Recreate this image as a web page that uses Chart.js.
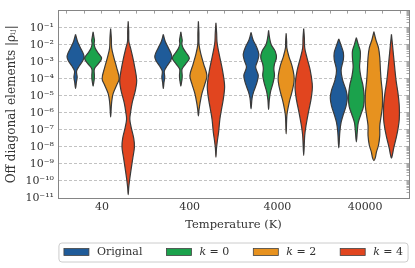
<!DOCTYPE html>
<html>
<head>
<meta charset="utf-8">
<script src="https://cdn.jsdelivr.net/npm/chart.js@4"></script>
<style>
  html, body { margin: 0; padding: 0; background: #ffffff; }
  #wrap { width: 415px; height: 268px; position: relative; }
</style>
</head>
<body>
<div id="wrap"><canvas id="c" width="415" height="268"></canvas></div>
<script>
// ---------- data ----------
const categories = ['40', '400', '4000', '40000'];
const seriesNames = ['Original', 'k = 0', 'k = 2', 'k = 4'];
const yTickValues = [1e-1, 1e-2, 1e-3, 1e-4, 1e-5, 1e-6, 1e-7, 1e-8, 1e-9, 1e-10, 1e-11];
const yTickLabels = ['10⁻¹', '10⁻²', '10⁻³', '10⁻⁴', '10⁻⁵', '10⁻⁶', '10⁻⁷', '10⁻⁸', '10⁻⁹', '10⁻¹⁰', '10⁻¹¹'];

// density profiles: [log10 value, relative density width], one profile per temperature
const originalDensity = [
  [[-1.38,0],[-1.8,0.23],[-2.18,0.58],[-2.66,1.0],[-2.94,0.85],[-3.23,0.46],[-3.55,0.12],[-3.9,0.19],[-4.2,0.1],[-4.56,0]],
  [[-1.38,0],[-1.8,0.23],[-2.18,0.6],[-2.66,1.0],[-2.94,0.85],[-3.23,0.46],[-3.55,0.12],[-3.9,0.17],[-4.2,0.08],[-4.56,0]],
  [[-1.27,0],[-1.7,0.23],[-2.09,0.62],[-2.56,0.92],[-2.94,0.77],[-3.32,0.54],[-3.8,0.85],[-4.28,0.65],[-4.75,0.31],[-5.13,0.12],[-5.76,0]],
  [[-1.65,0],[-2.09,0.31],[-2.47,0.54],[-2.85,0.54],[-3.5,0.27],[-4.09,0.46],[-4.66,0.85],[-5.13,1.0],[-5.6,0.85],[-6.08,0.54],[-6.56,0.27],[-7.13,0.12],[-8.06,0]]
];
const k0Density = [
  [[-1.23,0],[-1.55,0.1],[-1.75,0.16],[-1.95,0.12],[-2.2,0.25],[-2.45,0.55],[-2.79,1.0],[-3.13,0.58],[-3.42,0.15],[-3.8,0.15],[-4.0,0.14],[-4.2,0.08],[-4.43,0]],
  [[-1.23,0],[-1.55,0.1],[-1.75,0.16],[-1.95,0.12],[-2.2,0.28],[-2.45,0.6],[-2.79,1.0],[-3.13,0.55],[-3.42,0.14],[-3.8,0.16],[-4.0,0.14],[-4.2,0.08],[-4.43,0]],
  [[-1.15,0],[-1.61,0.12],[-1.99,0.31],[-2.37,0.77],[-2.75,0.92],[-3.13,0.69],[-3.42,0.62],[-3.8,0.69],[-4.28,0.5],[-4.75,0.23],[-5.23,0.08],[-5.8,0]],
  [[-1.57,0],[-1.99,0.23],[-2.37,0.46],[-2.75,0.46],[-3.32,0.38],[-3.9,0.54],[-4.37,0.77],[-5.04,0.92],[-5.6,0.85],[-6.08,0.54],[-6.56,0.23],[-7.04,0.12],[-7.7,0]]
];
const k2Density = [
  [[-1.04,0],[-1.6,0.08],[-2.18,0.12],[-2.75,0.38],[-3.32,0.7],[-3.99,1.0],[-4.37,0.7],[-4.85,0.3],[-5.23,0.15],[-5.6,0.08],[-6.24,0]],
  [[-0.62,0],[-1.3,0.06],[-2.0,0.08],[-2.56,0.3],[-3.13,0.62],[-3.8,1.0],[-4.28,0.77],[-4.85,0.42],[-5.42,0.19],[-5.8,0.08],[-6.18,0]],
  [[-1.32,0],[-1.8,0.06],[-2.18,0.08],[-2.66,0.31],[-3.23,0.69],[-3.8,0.92],[-4.18,0.92],[-4.75,0.69],[-5.33,0.38],[-5.8,0.19],[-6.18,0.08],[-7.23,0]],
  [[-1.23,0],[-1.7,0.23],[-2.18,0.54],[-2.75,0.69],[-3.5,0.77],[-4.09,0.85],[-4.85,1.0],[-5.6,1.0],[-6.18,0.85],[-6.75,0.69],[-7.32,0.69],[-7.9,0.54],[-8.28,0.31],[-8.66,0.15],[-8.8,0]]
];
const k4Density = [
  [[-0.62,0],[-1.2,0.06],[-1.8,0.08],[-2.18,0.27],[-2.75,0.54],[-3.32,0.77],[-4.09,1.0],[-4.66,0.85],[-5.42,0.46],[-6.0,0.27],[-6.37,0.19],[-6.85,0.35],[-7.5,0.65],[-8.0,0.73],[-8.66,0.54],[-9.42,0.31],[-10.0,0.15],[-10.4,0.06],[-10.8,0]],
  [[-0.7,0],[-1.3,0.08],[-1.8,0.12],[-2.18,0.23],[-2.75,0.46],[-3.5,0.77],[-4.28,1.0],[-4.66,1.0],[-5.23,0.85],[-5.8,0.65],[-6.37,0.46],[-7.13,0.31],[-7.7,0.15],[-8.1,0.06],[-8.6,0]],
  [[-1.04,0],[-1.6,0.08],[-2.18,0.12],[-2.75,0.38],[-3.5,0.77],[-4.28,1.0],[-4.66,1.0],[-5.23,0.85],[-6.0,0.54],[-6.75,0.27],[-7.32,0.12],[-8.5,0]],
  [[-1.38,0],[-1.99,0.12],[-2.56,0.23],[-3.32,0.38],[-4.09,0.54],[-4.85,0.77],[-5.6,0.92],[-6.37,0.92],[-6.94,0.77],[-7.5,0.54],[-8.06,0.27],[-8.44,0.12],[-8.66,0]]
];

// ---------- styling ----------
const seriesDensity = [originalDensity, k0Density, k2Density, k4Density];
const seriesColors = ['#1f5b99', '#1ba24c', '#e7921f', '#e1451f'];
const violinOffsets = [-0.3, -0.1, 0.1, 0.3];
const halfWidth = 0.097;
const FONT = "'DejaVu Serif', serif";
const frameColor = '#858585';
const textColor = '#333333';

function violinPoints(profile, center) {
  const right = profile.map(([v, w]) => ({ x: center + w * halfWidth, y: Math.pow(10, v) }));
  const left = profile.slice(0, -1).reverse().map(([v, w]) => ({ x: center - w * halfWidth, y: Math.pow(10, v) }));
  return right.concat(left);
}

const datasets = [];
categories.forEach((cat, ci) => {
  seriesNames.forEach((name, si) => {
    datasets.push({
      label: name + ' @ ' + cat + ' K',
      data: violinPoints(seriesDensity[si][ci], ci + violinOffsets[si]),
      backgroundColor: seriesColors[si],
      borderColor: '#3a3a3a',
      borderWidth: 1.2,
      borderJoinStyle: 'round',
      fill: 'shape',
      tension: 0.35,
      pointRadius: 0,
      pointHoverRadius: 0
    });
  });
});

const legendFramePlugin = {
  id: 'violinLegend',
  afterDraw(chart) {
    const ctx = chart.ctx;
    const ca = chart.chartArea;
    const boxW = 25, boxH = 7, gapText = 8, gapItem = 24;
    const normal = '11px ' + FONT;
    const italic = 'italic 11px ' + FONT;
    ctx.save();
    const widths = seriesNames.map(n => {
      if (n.startsWith('k')) {
        ctx.font = italic; const a = ctx.measureText('k').width;
        ctx.font = normal; const b = ctx.measureText(n.slice(1)).width;
        return a + b;
      }
      ctx.font = normal; return ctx.measureText(n).width;
    });
    const total = widths.reduce((s, w) => s + boxW + gapText + w, 0) + gapItem * (seriesNames.length - 1);
    let x = (ca.left + ca.right) / 2 - total / 2;
    const yc = 252;
    // frame
    const fx = x - 5, fw = total + 10, fy = 243, fh = 19, r = 3;
    ctx.beginPath();
    ctx.moveTo(fx + r, fy); ctx.lineTo(fx + fw - r, fy); ctx.quadraticCurveTo(fx + fw, fy, fx + fw, fy + r);
    ctx.lineTo(fx + fw, fy + fh - r); ctx.quadraticCurveTo(fx + fw, fy + fh, fx + fw - r, fy + fh);
    ctx.lineTo(fx + r, fy + fh); ctx.quadraticCurveTo(fx, fy + fh, fx, fy + fh - r);
    ctx.lineTo(fx, fy + r); ctx.quadraticCurveTo(fx, fy, fx + r, fy); ctx.closePath();
    ctx.fillStyle = 'rgba(255,255,255,0.85)'; ctx.fill();
    ctx.strokeStyle = '#cccccc'; ctx.lineWidth = 1; ctx.stroke();
    seriesNames.forEach((n, i) => {
      ctx.fillStyle = seriesColors[i];
      ctx.fillRect(x, yc - boxH / 2, boxW, boxH);
      ctx.strokeStyle = '#444444'; ctx.lineWidth = 0.8;
      ctx.strokeRect(x, yc - boxH / 2, boxW, boxH);
      let tx = x + boxW + gapText;
      ctx.fillStyle = textColor; ctx.textBaseline = 'middle'; ctx.textAlign = 'left';
      if (n.startsWith('k')) {
        ctx.font = italic; ctx.fillText('k', tx, yc); tx += ctx.measureText('k').width;
        ctx.font = normal; ctx.fillText(n.slice(1), tx, yc);
      } else {
        ctx.font = normal; ctx.fillText(n, tx, yc);
      }
      x += boxW + gapText + widths[i] + gapItem;
    });
    ctx.restore();
  }
};

new Chart(document.getElementById('c'), {
  type: 'line',
  data: { datasets },
  options: {
    responsive: false,
    animation: false,
    devicePixelRatio: 1,
    layout: { padding: { left: 0, right: 0, top: 0, bottom: 35 } },
    plugins: { legend: { display: false }, tooltip: { enabled: false } },
    scales: {
      x: {
        type: 'linear', position: 'bottom', min: -0.5, max: 3.5,
        afterBuildTicks: s => { s.ticks = categories.map((c, i) => ({ value: i })); },
        ticks: { callback: v => categories[v], font: { family: FONT, size: 11 }, color: textColor, padding: 3, autoSkip: false, maxRotation: 0 },
        grid: { drawOnChartArea: false, drawTicks: false },
        border: { color: frameColor, width: 1 },
        title: { display: true, text: 'Temperature (K)', font: { family: FONT, size: 11.5 }, color: textColor, padding: { top: 0, bottom: 1.1 } },
        afterFit: s => { s.height = 35; }
      },
      x2: {
        type: 'linear', position: 'top', min: -0.5, max: 3.5,
        afterBuildTicks: s => { const t = []; for (let i = -2; i <= 17; i++) t.push({ value: i * 0.2 }); s.ticks = t; },
        ticks: { display: false, autoSkip: false },
        grid: { drawOnChartArea: false, drawTicks: true, tickLength: -3, color: frameColor, lineWidth: 0.8 },
        border: { color: frameColor, width: 1 },
        afterFit: s => { s.height = 5; }
      },
      y: {
        type: 'logarithmic', position: 'left', min: 1e-11, max: 1.03,
        afterBuildTicks: s => { s.ticks = yTickValues.map(v => ({ value: v })); },
        ticks: {
          callback: v => {
            const i = yTickValues.findIndex(t => Math.abs(Math.log10(t) - Math.log10(v)) < 1e-6);
            return i >= 0 ? yTickLabels[i] : '';
          },
          font: { family: FONT, size: 11 }, color: textColor, padding: 4, autoSkip: false
        },
        grid: { color: '#b3b3b3', lineWidth: 0.8, drawTicks: false },
        border: { color: frameColor, width: 1, dash: [3, 2] },
        title: { display: true, text: 'Off diagonal elements |ρᵢⱼ|', font: { family: FONT, size: 12 }, color: textColor, padding: { top: 4.8, bottom: 0 } },
        afterFit: s => { s.width = 58; }
      },
      y2: {
        type: 'logarithmic', position: 'right', min: 1e-11, max: 1.03,
        afterBuildTicks: s => {
          const t = [];
          for (let e = -11; e <= -1; e++) for (let k = 1; k <= 9; k++) t.push({ value: k * Math.pow(10, e) });
          t.push({ value: 1 });
          s.ticks = t;
        },
        ticks: { display: false, autoSkip: false },
        grid: { drawOnChartArea: false, drawTicks: true, tickLength: -2.5, color: frameColor, lineWidth: 0.7 },
        border: { color: frameColor, width: 1 },
        afterFit: s => { s.width = 6; }
      }
    }
  },
  plugins: [legendFramePlugin]
});
</script>
</body>
</html>
